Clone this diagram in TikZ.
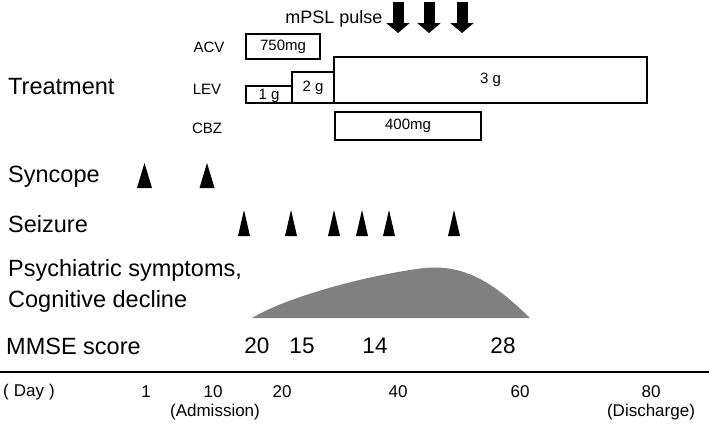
\documentclass[tikz,border=0pt]{standalone}
\usepackage{fontspec}
\setmainfont{Liberation Sans}
\usetikzlibrary{arrows.meta}
\definecolor{symgray}{HTML}{808080}

\newcommand{\fs}[1]{\fontsize{#1}{#1}\selectfont}

\begin{document}
\begin{tikzpicture}[x=1pt, y=-1pt, inner sep=0pt,
    rowlabel/.style={anchor=west, font=\fs{23.5}},
    drug/.style={font=\fs{15}},
    dosebox/.style={draw, line width=1.2pt, font=\fs{15}},
    mmse/.style={font=\fs{22.5}},
    daylabel/.style={font=\fs{17}}]
  \useasboundingbox (0,0) rectangle (709,426);

  % row labels
  \node[rowlabel] (treat) at (8,87) {Treatment};
  \node[rowlabel] (syncope) at (8,177) {Syncope};
  \node[rowlabel] (seizure) at (8,224) {Seizure};
  \node[rowlabel, align=left] (psych) at (8,286)
    {Psychiatric symptoms,\\[7pt]Cognitive decline};
  \node[rowlabel] (mmse) at (6,346) {MMSE score};

  % drugs and doses
  \node[drug] (acv) at (209,47) {ACV};
  \node[drug] (lev) at (207,89) {LEV};
  \node[drug] (cbz) at (207,128) {CBZ};
  \node[dosebox, minimum width=74, minimum height=25] (acv750) at (283,46.5) {750mg};
  \node[dosebox, minimum width=46, minimum height=17, text depth=0pt] (lev1) at (269,94.5) {1 g};
  \node[dosebox, minimum width=42, minimum height=31] (lev2) at (313,87.5) {2 g};
  \node[dosebox, minimum width=313, minimum height=46] (lev3) at (490.5,80) {3 g};
  \node[dosebox, minimum width=146, minimum height=28] (cbz400) at (408,126) {400mg};

  % mPSL pulse
  \node[font=\fs{18}] (mpsl) at (334,19) {mPSL pulse};
  \foreach \x [count=\i] in {398,429,462} {
    \coordinate (pulse\i) at (\x,2);
    \draw[line width=11pt, -{Triangle[width=23pt, length=10pt]}] (pulse\i) -- ++(0,31);
  }

  % events
  \foreach \x in {144.5,207} {
    \fill (\x-7.5,188) -- (\x+7.5,188) -- (\x,163) -- cycle;
  }
  \foreach \x in {244,291,334,362,389,454} {
    \fill (\x-6,236) -- (\x+6,236) -- (\x,210) -- cycle;
  }

  % symptom course
  \fill[symgray] (252,318) .. controls (285,298) and (362,276) .. (424,268)
    .. controls (466,264) and (495,284) .. (530,318) -- cycle;

  % MMSE values
  \node[mmse] (m20) at (257,346) {20};
  \node[mmse] (m15) at (302,346) {15};
  \node[mmse] (m14) at (375,346) {14};
  \node[mmse] (m28) at (503,346) {28};

  % time axis
  \coordinate (axisL) at (0,372);
  \coordinate (axisR) at (709,372);
  \draw[line width=2pt] (axisL) -- (axisR);
  \node[daylabel] (day) at (29,392) {(\hspace{5pt}Day\hspace{5pt})};
  \node[daylabel] (d1) at (146,392) {1};
  \node[daylabel] (d10) at (213,392) {10};
  \node[daylabel] (d20) at (282,392) {20};
  \node[daylabel] (d40) at (398,392) {40};
  \node[daylabel] (d60) at (520,392) {60};
  \node[daylabel] (d80) at (651,392) {80};
  \node[daylabel] (adm) at (215,412) {(Admission)};
  \node[daylabel] (dis) at (651,412) {(Discharge)};
\end{tikzpicture}
\end{document}
